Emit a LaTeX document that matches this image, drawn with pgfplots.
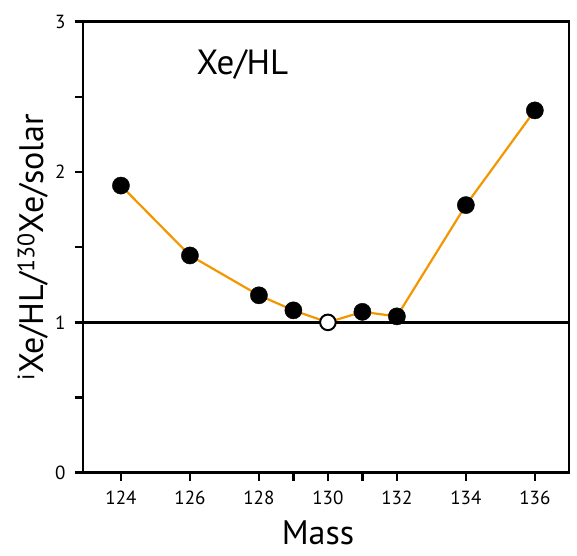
\documentclass[border=0pt]{standalone}
\usepackage{pgfplots}
\pgfplotsset{compat=1.18}
\usepackage{fontspec}
\setmainfont{PT Sans}
\definecolor{lineorange}{RGB}{243,150,0}
\begin{document}
\begin{tikzpicture}
\path[use as bounding box] (-83pt,-83pt) rectangle (494pt,472.7pt);
\begin{axis}[
  scale only axis, width=486pt, height=451pt,
  xmin=122.9, xmax=136.99, ymin=0, ymax=3,
  xtick={124,126,128,129,130,131,132,134,136},
  xticklabels={124,126,128,,130,,132,134,136},
  ytick={0,0.5,1,1.5,2,2.5,3},
  yticklabels={0,,1,,2,,3},
  tick pos=left,
  tick align=outside, major tick length=8pt,
  tick style={black, line width=2.5pt},
  axis line style={line width=2.6pt},
  ticklabel style={font=\fontsize{19}{19}\selectfont},
  xticklabel style={yshift=-7pt},
  yticklabel style={xshift=-6pt},
  /pgf/number format/assume math mode=true,
  xlabel={Mass},
  ylabel={\textsuperscript{i}Xe/HL/\textsuperscript{130}Xe/solar},
  label style={font=\fontsize{34}{34}\selectfont},
  xlabel style={yshift=-11pt, xshift=-8pt, inner ysep=1pt},
  clip=false,
]
\addplot[black, line width=2.6pt, forget plot] coordinates {(122.9,1) (136.99,1)};
\addplot[lineorange, line width=2.2pt, forget plot] coordinates {
  (124,1.91) (126,1.445) (128,1.18) (129,1.08) (130,1.0) (131,1.07) (132,1.04) (134,1.78) (136,2.41)};
\addplot[only marks, mark=*, mark size=8.6pt, mark options={draw=black, fill=black}] coordinates {
  (124,1.91) (126,1.445) (128,1.18) (129,1.08) (131,1.07) (132,1.04) (134,1.78) (136,2.41)};
\addplot[only marks, mark=*, mark size=7.8pt, mark options={draw=black, fill=white, line width=2pt}] coordinates {(130,1.0)};
\node[anchor=base west, font=\fontsize{35}{35}\selectfont] at (axis cs:126.09,2.646) {Xe/HL};
\end{axis}
\end{tikzpicture}
\end{document}
